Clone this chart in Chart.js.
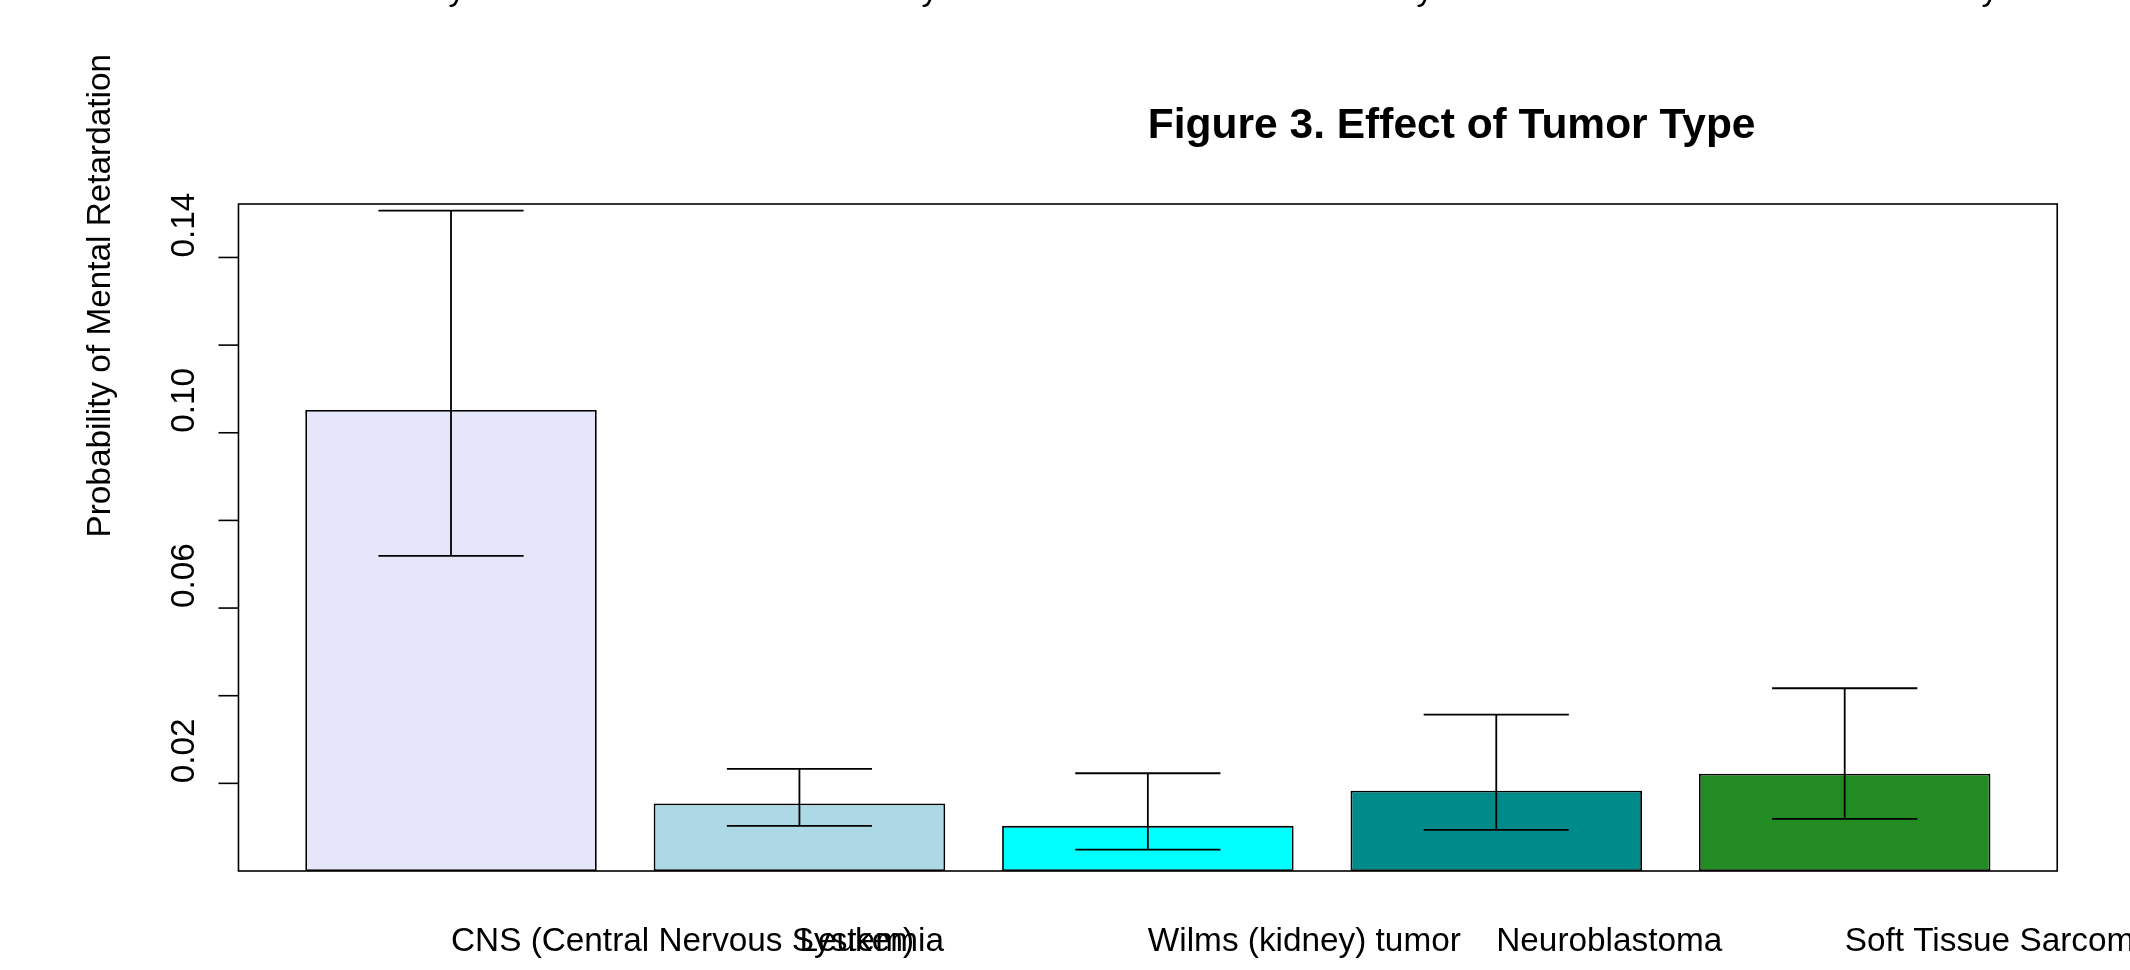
<!DOCTYPE html>
<html>
<head>
<meta charset="utf-8">
<script src="https://cdn.jsdelivr.net/npm/chart.js@4.4.0/dist/chart.umd.min.js"></script>
<style>
  html, body { margin: 0; padding: 0; background: #ffffff; }
  #wrap { width: 2130px; height: 970px; position: relative; overflow: hidden; }
  canvas { display: block; }
</style>
</head>
<body>
<div id="wrap"><canvas id="chart" width="2130" height="970"></canvas></div>
<script>
// Tumor types and estimated probabilities with confidence limits
const tumorTypes = ["CNS (Central Nervous System)", "Leukemia", "Wilms (kidney) tumor", "Neuroblastoma", "Soft Tissue Sarcoma"];
const probability = [0.1052, 0.0154, 0.0103, 0.0183, 0.0222];
const lowerLimit = [0.0719, 0.0103, 0.0049, 0.0094, 0.0119];
const upperLimit = [0.1507, 0.0233, 0.0223, 0.0357, 0.0417];
const barColors = ["#E6E6FA", "#ADD8E6", "#00FFFF", "#008B8B", "#228B22"];

// y axis ticks; only every other tick carries a label
const yTickValues = [0.02, 0.04, 0.06, 0.08, 0.10, 0.12, 0.14];
const yTickLabels = ["0.02", "", "0.06", "", "0.10", "", "0.14"];

// Labels of the previous panel, whose lower edge shows at the top of the page
const previousPanelLabels = ["0-4 years", "5-9 years", "10-14 years", "15-20 years"];

const titleText = "Figure 3. Effect of Tumor Type";
const yTitleText = "Probability of Mental Retardation";

const FONT = '"Liberation Sans", Arial, Helvetica, sans-serif';
const BASE = 33.33;
const LW = 1.8;
// frame extends this far (in category units) beyond the outer bar centres
const FRAME_EXT = 0.61;

const annotate = {
  id: 'annotate',
  afterDatasetsDraw(chart) {
    const ctx = chart.ctx;
    const area = chart.chartArea;
    const xs = chart.scales.x;
    const ys = chart.scales.y;
    const n = tumorTypes.length;
    const frameL = xs.getPixelForValue(-FRAME_EXT);
    const frameR = xs.getPixelForValue(n - 1 + FRAME_EXT);
    ctx.save();
    ctx.strokeStyle = '#000';
    ctx.fillStyle = '#000';
    ctx.lineWidth = LW;
    ctx.lineCap = 'butt';

    // error bars: vertical stem plus caps a quarter bar-unit wide on each side
    const capHalf = 0.25 / 1.2;
    for (let i = 0; i < n; i++) {
      const cx = xs.getPixelForValue(i);
      const yl = ys.getPixelForValue(lowerLimit[i]);
      const yu = ys.getPixelForValue(upperLimit[i]);
      const xl = xs.getPixelForValue(i - capHalf);
      const xr = xs.getPixelForValue(i + capHalf);
      ctx.beginPath();
      ctx.moveTo(cx, yl); ctx.lineTo(cx, yu);
      ctx.moveTo(xl, yu); ctx.lineTo(xr, yu);
      ctx.moveTo(xl, yl); ctx.lineTo(xr, yl);
      ctx.stroke();
    }

    // plot frame
    ctx.lineWidth = 1.6;
    ctx.strokeRect(frameL, area.top, frameR - frameL, area.bottom - area.top);

    // y ticks and rotated labels starting at the tick
    ctx.font = BASE + 'px ' + FONT;
    ctx.textBaseline = 'alphabetic';
    ctx.textAlign = 'left';
    yTickValues.forEach((v, k) => {
      const py = ys.getPixelForValue(v);
      ctx.beginPath();
      ctx.moveTo(frameL - 20, py); ctx.lineTo(frameL, py);
      ctx.stroke();
      if (yTickLabels[k]) {
        ctx.save();
        ctx.translate(194, py);
        ctx.rotate(-Math.PI / 2);
        ctx.fillText(yTickLabels[k], 0, 0);
        ctx.restore();
      }
    });

    // y axis title, starting at the vertical middle of the plot
    ctx.save();
    ctx.translate(110, (area.top + area.bottom) / 2);
    ctx.rotate(-Math.PI / 2);
    ctx.fillText(yTitleText, 0, 0);
    ctx.restore();

    // category labels, left-aligned at each bar centre
    tumorTypes.forEach((t, i) => {
      ctx.fillText(t, xs.getPixelForValue(i), 951);
    });

    // main title, starting at the horizontal middle of the plot
    ctx.font = 'bold 42.5px ' + FONT;
    ctx.fillText(titleText, (frameL + frameR) / 2, 138);

    // bottom edge of the previous panel's labels
    ctx.font = BASE + 'px ' + FONT;
    const prevX = [391, 864, 1322, 1887];
    previousPanelLabels.forEach((t, i) => ctx.fillText(t, prevX[i], -0.5));

    ctx.restore();
  }
};

new Chart(document.getElementById('chart'), {
  type: 'bar',
  data: {
    labels: tumorTypes,
    datasets: [{
      data: probability,
      backgroundColor: barColors,
      borderColor: '#000000',
      borderWidth: LW,
      borderSkipped: false,
      barPercentage: 291.5 / 348.4,
      categoryPercentage: 1
    }]
  },
  options: {
    responsive: false,
    animation: false,
    devicePixelRatio: 1,
    // chart area spans half a category beyond the outer bar centres
    layout: { padding: { left: 276.8, right: 111.1, top: 204, bottom: 99 } },
    plugins: { legend: { display: false }, title: { display: false }, tooltip: { enabled: false } },
    scales: {
      x: { type: 'category', offset: true, display: false },
      y: { type: 'linear', min: 0, max: 0.1522, display: false }
    }
  },
  plugins: [annotate]
});
</script>
</body>
</html>
